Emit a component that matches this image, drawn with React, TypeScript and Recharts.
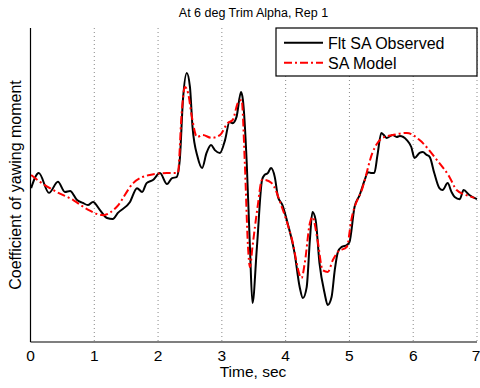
import React from "react";
import { LineChart, Line, XAxis, YAxis, CartesianGrid } from "recharts";

const obsTime = [0.01,0.13,0.29,0.43,0.54,0.62,0.73,0.82,0.9,0.98,1.09,1.2,1.29,1.37,1.56,1.67,1.75,1.82,1.92,2.03,2.14,2.22,2.29,2.34,2.39,2.45,2.5,2.54,2.62,2.69,2.76,2.83,2.89,2.97,3.05,3.12,3.17,3.23,3.3,3.33,3.39,3.44,3.48,3.55,3.63,3.67,3.72,3.77,3.83,3.88,3.95,4.03,4.14,4.22,4.27,4.33,4.38,4.42,4.47,4.53,4.61,4.66,4.72,4.77,4.82,4.88,4.96,5.0,5.08,5.16,5.24,5.29,5.35,5.39,5.44,5.5,5.54,5.58,5.68,5.74,5.79,5.9,5.97,6.02,6.1,6.15,6.21,6.26,6.33,6.41,6.46,6.54,6.6,6.65,6.73,6.79,6.88,7.0];
const obsValue = [49.0,53.8,47.5,51.0,47.8,48.1,45.2,44.3,43.6,44.6,42.0,39.5,39.2,41.1,44.6,49.0,47.8,50.6,51.6,53.8,50.3,52.2,52.5,58.0,77.1,85.7,81.2,68.5,58.9,55.4,60.2,62.7,61.1,60.2,64.3,70.1,69.7,71.7,79.6,77.1,57.0,30.3,12.4,30.3,51.6,53.2,53.8,55.4,52.5,46.2,43.6,37.9,28.3,17.5,14.0,17.5,32.5,41.4,38.9,25.2,15.6,11.8,14.3,22.9,28.7,30.3,30.9,31.8,43.0,46.8,51.6,54.1,53.8,53.8,59.6,66.6,65.9,65.0,65.9,65.3,65.6,64.3,62.1,58.6,60.2,60.5,59.6,58.9,53.8,49.0,48.4,50.6,47.8,46.2,45.5,48.4,46.8,45.5];

const modelTime = [0.01,0.15,0.41,0.67,0.88,1.14,1.35,1.61,1.87,2.14,2.31,2.37,2.42,2.47,2.53,2.61,2.7,2.84,2.97,3.09,3.17,3.25,3.31,3.36,3.41,3.44,3.48,3.56,3.63,3.67,3.78,3.94,4.09,4.25,4.3,4.38,4.42,4.5,4.58,4.66,4.74,4.82,4.96,5.03,5.21,5.36,5.52,5.68,5.9,6.1,6.37,6.57,6.68,6.83,6.96];
const modelValue = [53.2,51.0,47.8,45.2,42.4,40.4,43.0,50.6,53.2,53.8,53.8,72.9,81.2,79.3,71.7,65.3,65.9,65.0,65.9,69.7,70.7,76.1,77.1,57.0,30.3,23.9,30.3,43.0,51.6,51.6,50.6,43.0,33.4,20.4,25.2,37.9,39.8,32.5,22.9,22.3,26.1,28.7,30.3,38.9,49.4,60.2,65.0,65.9,66.6,64.3,58.0,52.5,48.4,46.8,45.9];

const xTicks = [0, 1, 2, 3, 4, 5, 6, 7];
const titleText = "At 6 deg Trim Alpha, Rep 1";
const xLabel = "Time, sec";
const yLabel = "Coefficient of yawing moment";
const legendNames = ["Flt SA Observed", "SA Model"];

const obsData = obsTime.map((t, i) => ({ t, v: obsValue[i] }));
const modelData = modelTime.map((t, i) => ({ t, v: modelValue[i] }));

const FONT = "'Liberation Sans', Arial, Helvetica, sans-serif";

export default function App() {
  return (
    <div style={{ position: "absolute", left: 0, top: 0, width: 480, height: 388, background: "#fff" }}>
      <LineChart width={480} height={388} margin={{ top: 28, right: 3, bottom: 16, left: 0 }}>
        <CartesianGrid vertical horizontal={false} stroke="#888" strokeDasharray="1 3" />
        <XAxis
          dataKey="t"
          type="number"
          domain={[0, 7]}
          ticks={xTicks}
          allowDuplicatedCategory={false}
          height={30}
          tickLine={false}
          tickSize={6}
          tickMargin={2}
          axisLine={{ stroke: "#000", strokeWidth: 1.2 }}
          tick={{ fill: "#000", fontSize: 15.5, fontFamily: FONT }}
        />
        <XAxis
          xAxisId="top"
          orientation="top"
          type="number"
          domain={[0, 7]}
          height={0}
          tick={false}
          tickLine={false}
          axisLine={{ stroke: "#000", strokeWidth: 1.2 }}
        />
        <YAxis
          type="number"
          domain={[0, 100]}
          width={30.5}
          tick={false}
          tickLine={false}
          axisLine={{ stroke: "#000", strokeWidth: 1.2 }}
        />
        <YAxis
          yAxisId="right"
          orientation="right"
          type="number"
          domain={[0, 100]}
          width={0}
          tick={false}
          tickLine={false}
          axisLine={{ stroke: "#000", strokeWidth: 1.2 }}
        />
        <Line
          data={obsData}
          dataKey="v"
          type="monotone"
          stroke="#000"
          strokeWidth={2}
          dot={false}
          isAnimationActive={false}
        />
        <Line
          data={modelData}
          dataKey="v"
          type="monotone"
          stroke="#ff0000"
          strokeWidth={2}
          strokeDasharray="8 3 2 3"
          dot={false}
          isAnimationActive={false}
        />
        <text x={253.5} y={17} textAnchor="middle" fontSize={12.5} fontFamily={FONT} fill="#000">{titleText}</text>
        <text x={253} y={377} textAnchor="middle" fontSize={15.5} fontFamily={FONT} fill="#000">{xLabel}</text>
        <text x={21} y={185} textAnchor="middle" fontSize={16} fontFamily={FONT} fill="#000" transform="rotate(-90 21 185)">{yLabel}</text>
        <rect x={276} y={28} width={201} height={48} fill="#fff" stroke="#000" strokeWidth={1.2} />
        <line x1={284} y1={42.7} x2={323} y2={42.7} stroke="#000" strokeWidth={2} />
        <line x1={284} y1={62.7} x2={323} y2={62.7} stroke="#ff0000" strokeWidth={2} strokeDasharray="8 3 2 3" />
        <text x={328} y={48.5} fontSize={16} fontFamily={FONT} fill="#000">{legendNames[0]}</text>
        <text x={328} y={68.5} fontSize={16} fontFamily={FONT} fill="#000">{legendNames[1]}</text>
      </LineChart>
    </div>
  );
}
